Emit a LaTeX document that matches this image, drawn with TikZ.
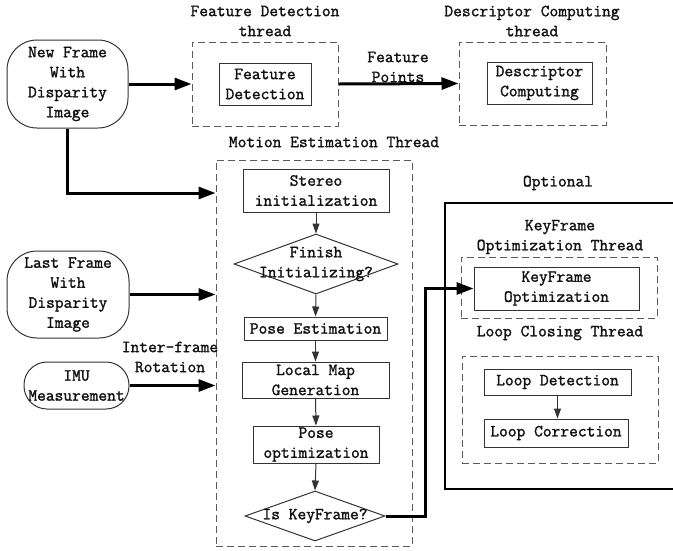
\documentclass[tikz,border=0pt]{standalone}
\usepackage{fontspec}
\usepackage{tikz}
\usetikzlibrary{arrows.meta,positioning,calc,shapes.geometric}
\newfontfamily\diafont[FakeBold=1.6]{Latin Modern Mono}
\definecolor{VOInk}{HTML}{111111}
\definecolor{VOLine}{HTML}{333333}
\definecolor{VODash}{HTML}{5A5A5A}

\begin{document}
\begin{tikzpicture}[
    x=1pt, y=-1pt,
    every node/.style={font=\diafont\fontsize{17}{20}\selectfont, text=VOInk},
    flow/.style={-{Triangle[length=17pt, width=12pt]}, line width=3pt, draw=black},
    link/.style={-{Triangle[length=10pt, width=7pt]}, line width=1pt, draw=VOLine},
    proc/.style={draw=VOLine, line width=1pt, inner sep=0pt, align=center},
    src/.style={draw=VOLine, line width=1pt, inner sep=0pt, align=center, rounded corners=30pt},
    dec/.style={diamond, draw=VOLine, line width=1pt, inner sep=0pt},
    thread/.style={draw=VODash, line width=1pt, dash pattern=on 7pt off 4pt, inner sep=0pt},
    head/.style={align=center, inner sep=0pt}
  ]
    \useasboundingbox (0,0) rectangle (673,550);
    \clip (0,0) rectangle (673,550);

    % inputs
    \node[src, minimum width=121pt, minimum height=88pt] (newframe) at (67.5,84)
      {New Frame\\With\\Disparity\\Image};
    \node[src, minimum width=122pt, minimum height=87pt] (lastframe) at (68,294.5)
      {Last Frame\\With\\Disparity\\Image};
    \node[src, rounded corners=23pt, minimum width=105pt, minimum height=47pt] (imu) at (76.5,385.5)
      {IMU\\Measurement};

    % feature detection and descriptor threads
    \node[thread, minimum width=146pt, minimum height=84pt] (fdthread) at (265,84) {};
    \node[head] (fdtitle) at (265,21) {Feature Detection\\thread};
    \node[proc, minimum width=92pt, minimum height=42pt] (featdet) at (265,84) {Feature\\Detection};
    \node[thread, minimum width=147pt, minimum height=83pt] (dcthread) at (532.5,83.5) {};
    \node[head] (dctitle) at (532,21) {Descriptor Computing\\thread};
    \node[proc, minimum width=105pt, minimum height=42pt] (desccomp) at (539.5,83) {Descriptor\\Computing};

    % motion estimation thread
    \node[thread, minimum width=196pt, minimum height=386pt] (methread) at (314,353) {};
    \node[head] (metitle) at (334,142) {Motion Estimation Thread};
    \node[proc, minimum width=146pt, minimum height=43pt] (stereo) at (316,190.5) {Stereo\\initialization};
    \node[dec, minimum width=164pt, minimum height=60pt] (finish) at (316,264) {};
    \node[head] (finishtext) at (finish) {Finish\\Initializing?};
    \node[proc, minimum width=143pt, minimum height=23pt] (poseest) at (315.5,328.5) {Pose Estimation};
    \node[proc, minimum width=147pt, minimum height=36pt] (localmap) at (315.5,380) {Local Map\\Generation};
    \node[proc, minimum width=126pt, minimum height=37pt] (poseopt) at (316,444.5) {Pose\\optimization};
    \node[dec, minimum width=140pt, minimum height=50pt] (iskf) at (315,516) {};
    \node[head] (iskftext) at (iskf) {Is KeyFrame?};

    % optional part
    \draw[line width=2pt, draw=black] (445,203) rectangle (690,489);
    \node[head] (opttitle) at (558,183) {Optional};
    \node[thread, minimum width=196pt, minimum height=61pt] (kfthread) at (559,287.5) {};
    \node[head] (kftitle) at (560,237) {KeyFrame\\Optimization Thread};
    \node[proc, minimum width=165pt, minimum height=43pt] (kfopt) at (556.5,288.5) {KeyFrame\\Optimization};
    \node[thread, minimum width=196pt, minimum height=107pt] (lcthread) at (560,409.5) {};
    \node[head] (lctitle) at (560,333) {Loop Closing Thread};
    \node[proc, minimum width=147pt, minimum height=26pt] (loopdet) at (557.5,382) {Loop Detection};
    \node[proc, minimum width=144pt, minimum height=28pt] (loopcorr) at (556,433) {Loop Correction};

    % connectors
    \draw[flow] (newframe.east) -- (fdthread.west);
    \draw[flow] (fdthread.east) -- (dcthread.west);
    \node[head] (featpts) at (398,67) {Feature\\Points};
    \draw[flow] (newframe.south) |- ($(methread.west|-stereo)+(0,2.5)$);
    \draw[flow] (lastframe.east) -- (lastframe.east-|methread.west);
    \draw[flow] (imu.east) -- (imu.east-|methread.west);
    \node[head] (rotlabel) at (170,357) {Inter-frame\\Rotation};

    \draw[link] (stereo.south) -- (finish.north);
    \draw[link] (finish.south) -- (poseest.north);
    \draw[link] (poseest.south) -- (localmap.north);
    \draw[link] (localmap.south) -- (poseopt.north);
    \draw[link] (poseopt.south) -- (iskf.north);
    \draw[flow] (iskf.east) -- ++(40,0) |- (kfopt.west);
    \draw[link] (loopdet.south) -- (loopdet.south|-loopcorr.north);
  \end{tikzpicture}
\end{document}
